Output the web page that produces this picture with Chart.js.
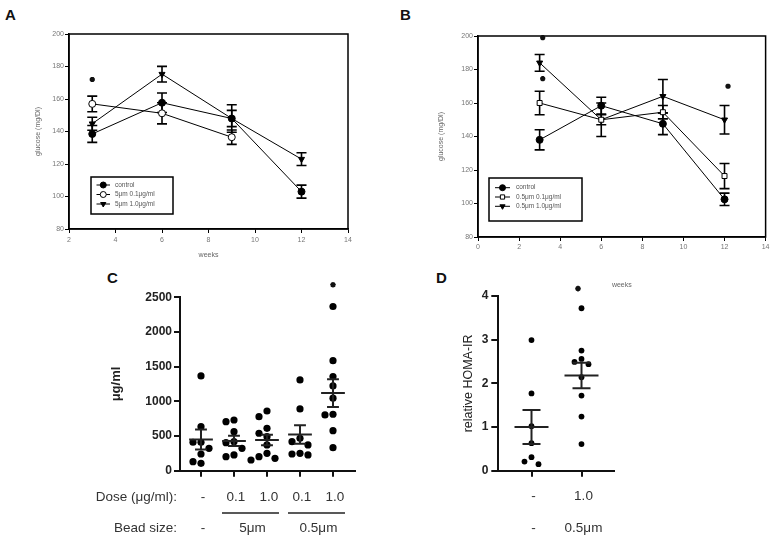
<!DOCTYPE html>
<html>
<head>
<meta charset="utf-8">
<script src="https://cdn.jsdelivr.net/npm/chart.js@4.4.1/dist/chart.umd.min.js"></script>
<style>
body { margin: 0; background: #fff; width: 771px; height: 538px; position: relative; overflow: hidden; font-family: "Liberation Sans", Arial, sans-serif; }
canvas { position: absolute; }
.panel { position: absolute; font-weight: bold; font-size: 15px; line-height: 15px; color: #111; }
</style>
</head>
<body>
<div class="panel" style="left:5px;top:7px">A</div>
<div class="panel" style="left:400px;top:7px">B</div>
<div class="panel" style="left:107px;top:270px">C</div>
<div class="panel" style="left:436px;top:270px">D</div>
<canvas id="chartA" width="380" height="270" style="left:0;top:0"></canvas>
<canvas id="chartB" width="381" height="295" style="left:390px;top:0"></canvas>
<canvas id="chartC" width="380" height="268" style="left:0;top:270px"></canvas>
<canvas id="chartD" width="391" height="268" style="left:380px;top:270px"></canvas>
<script>
// ---- data ----
const weeks = [3, 6, 9, 12];

// panel A : 5um beads
const namesA = ['control', '5\u03bcm 0.1\u03bcg/ml', '5\u03bcm 1.0\u03bcg/ml'];
const controlA = [138.5, 157.7, 148, 103];
const controlAErr = [5.2, 6, 8.5, 4];
const lowDoseA = [157, 151.2, 136.5];
const lowDoseAErr = [4.8, 6.5, 4.4];
const highDoseA = [144.8, 175.3, 148, 123];
const highDoseAErr = [4, 4.8, 5, 3.9];
const starsA = [[3, 172]];

// panel B : 0.5um beads
const namesB = ['control', '0.5\u03bcm 0.1\u03bcg/ml', '0.5\u03bcm 1.0\u03bcg/ml'];
const controlB = [138, 158.4, 147.6, 102.5];
const controlBErr = [6, 5, 6.5, 3.7];
const lowDoseB = [160, 150, 154.5, 116.4];
const lowDoseBErr = [7, 3, 4, 7.5];
const highDoseB = [184, 150, 164, 150];
const highDoseBErr = [5, 10, 10, 8.5];
const starsB = [[3.15, 199], [3.15, 174.5], [12.17, 170]];

// panel C : individual animals, mean +/- SEM
const groupsC = [
    [1366, 635, 410, 410, 323, 241, 130, 107],
    [731, 707, 563, 419, 404, 323, 227, 202],
    [861, 779, 611, 540, 491, 371, 251, 202, 179, 154],
    [1309, 890, 467, 419, 371, 251, 241, 227],
    [2367, 1587, 1357, 1222, 1045, 814, 804, 577, 332]
];
const meansC = [450, 430, 443, 522, 1120];
const semC = [145, 75, 75, 135, 200];
const doseC = ['-', '0.1', '1.0', '0.1', '1.0'];
const beadC = ['-', '5\u03bcm', '0.5\u03bcm'];
const beadSpanC = [[1, 1], [2, 3], [4, 5]];
const starsC = [[5, 2680]];

// panel D : relative HOMA-IR
const groupsD = [
    [2.99, 1.77, 1.02, 0.63, 0.31, 0.21, 0.15],
    [3.72, 2.75, 2.56, 2.49, 2.44, 2.14, 1.72, 1.24, 0.61]
];
const meansD = [1.0, 2.18];
const semD = [0.39, 0.29];
const doseD = ['-', '1.0'];
const beadD = ['-', '0.5\u03bcm'];
const starsD = [[1.93, 4.17]];

Chart.defaults.font.family = '"Liberation Sans", Arial, sans-serif';
Chart.defaults.animation = false;

const pts = (ys) => ys.map((y, i) => ({x: weeks[i], y: y}));

// simple beeswarm so equal values sit side by side
function swarm(values, cat, yPx, xPx, diam) {
    const placed = [];
    return values.map(v => {
        const yy = v * yPx;
        let off = 0;
        for (let step = 0; step < 20; step++) {
            off = step === 0 ? 0 : (step % 2 ? -1 : 1) * Math.ceil(step / 2) * diam;
            if (placed.every(p => Math.hypot(p.x - off, p.y - yy) >= diam)) break;
        }
        placed.push({x: off, y: yy});
        return {x: cat + off / xPx, y: v};
    });
}

// ---- plugins ----
const errorBars = {
    id: 'errorBars',
    beforeDatasetsDraw(chart) {
        const ctx = chart.ctx, x = chart.scales.x, y = chart.scales.y;
        ctx.save();
        ctx.strokeStyle = '#000';
        ctx.lineWidth = 1.6;
        chart.data.datasets.forEach(ds => {
            if (!ds.errors) return;
            ds.data.forEach((p, i) => {
                const e = ds.errors[i];
                const px = x.getPixelForValue(p.x);
                const t = y.getPixelForValue(p.y + e);
                const b = y.getPixelForValue(p.y - e);
                ctx.beginPath();
                ctx.moveTo(px, t); ctx.lineTo(px, b);
                ctx.moveTo(px - 5, t); ctx.lineTo(px + 5, t);
                ctx.moveTo(px - 5, b); ctx.lineTo(px + 5, b);
                ctx.stroke();
            });
        });
        ctx.restore();
    }
};

// significance asterisks (may sit above the top of the axis)
const stars = {
    id: 'stars',
    afterDraw(chart, args, opts) {
        if (!opts.points) return;
        const ctx = chart.ctx, x = chart.scales.x, y = chart.scales.y;
        ctx.save();
        ctx.strokeStyle = '#111';
        ctx.lineWidth = opts.width;
        opts.points.forEach(s => {
            Chart.helpers.drawPoint(ctx, {pointStyle: 'star', rotation: 0, radius: opts.radius, borderWidth: opts.width},
                x.getPixelForValue(s[0]), y.getPixelForValue(s[1]));
        });
        ctx.restore();
    }
};

const frame = {
    id: 'frame',
    afterDraw(chart) {
        const a = chart.chartArea, ctx = chart.ctx;
        ctx.save();
        ctx.strokeStyle = '#000';
        ctx.lineWidth = 1.5;
        ctx.strokeRect(a.left, a.top, a.right - a.left, a.bottom - a.top);
        ctx.restore();
    }
};

const boxLegend = {
    id: 'boxLegend',
    afterDraw(chart, args, opts) {
        if (!opts.box) return;
        const ctx = chart.ctx, b = opts.box;
        ctx.save();
        ctx.fillStyle = '#fff';
        ctx.fillRect(b[0], b[1], b[2], b[3]);
        ctx.strokeStyle = '#000';
        ctx.lineWidth = 1.5;
        ctx.strokeRect(b[0], b[1], b[2], b[3]);
        ctx.font = '6.5px "Liberation Sans", Arial';
        ctx.textBaseline = 'middle';
        chart.data.datasets.filter(ds => ds.label).forEach((ds, i) => {
            const yy = b[1] + opts.first + i * opts.gap;
            const x0 = b[0] + opts.lineFrom, x1 = x0 + opts.lineLen;
            ctx.strokeStyle = '#000';
            ctx.lineWidth = 1;
            ctx.beginPath(); ctx.moveTo(x0, yy); ctx.lineTo(x1, yy); ctx.stroke();
            ctx.fillStyle = ds.pointBackgroundColor;
            Chart.helpers.drawPoint(ctx, {pointStyle: ds.pointStyle, rotation: ds.pointRotation || 0, radius: 3, borderWidth: 1}, (x0 + x1) / 2, yy);
            ctx.fillStyle = '#555';
            ctx.fillText(ds.label, x1 + opts.textGap, yy);
        });
        ctx.restore();
    }
};

const meanSem = {
    id: 'meanSem',
    afterDatasetsDraw(chart, args, opts) {
        if (!opts.means) return;
        const ctx = chart.ctx, x = chart.scales.x, y = chart.scales.y;
        ctx.save();
        ctx.strokeStyle = '#222';
        ctx.lineWidth = opts.width;
        opts.means.forEach((m, i) => {
            const c = i + 1;
            const cx = x.getPixelForValue(c);
            const hw = x.getPixelForValue(c + opts.half) - cx;
            const cw = x.getPixelForValue(c + opts.cap) - cx;
            const my = y.getPixelForValue(m);
            const t = y.getPixelForValue(m + opts.sem[i]);
            const b = y.getPixelForValue(m - opts.sem[i]);
            ctx.beginPath();
            ctx.moveTo(cx - hw, my); ctx.lineTo(cx + hw, my);
            ctx.moveTo(cx, t); ctx.lineTo(cx, b);
            ctx.moveTo(cx - cw, t); ctx.lineTo(cx + cw, t);
            ctx.moveTo(cx - cw, b); ctx.lineTo(cx + cw, b);
            ctx.stroke();
        });
        ctx.restore();
    }
};

const rowLabels = {
    id: 'rowLabels',
    afterDraw(chart, args, opts) {
        if (!opts.rows) return;
        const ctx = chart.ctx, a = chart.chartArea, x = chart.scales.x;
        ctx.save();
        ctx.font = '13.5px "Liberation Sans", Arial';
        ctx.fillStyle = '#333';
        ctx.strokeStyle = '#222';
        ctx.lineWidth = 1.5;
        ctx.textBaseline = 'middle';
        opts.rows.forEach(row => {
            const yy = a.bottom + row.dy;
            if (row.title) {
                ctx.textAlign = 'right';
                ctx.fillText(row.title, opts.titleRight, yy);
            }
            ctx.textAlign = 'center';
            row.labels.forEach((txt, i) => {
                const span = row.spans ? row.spans[i] : [i + 1, i + 1];
                const l = x.getPixelForValue(span[0]), r = x.getPixelForValue(span[1]);
                ctx.fillText(txt, (l + r) / 2 + 2, yy);
                if (span[1] > span[0]) {
                    ctx.beginPath();
                    ctx.moveTo(l - 12, yy - 15); ctx.lineTo(r + 12, yy - 15);
                    ctx.stroke();
                }
            });
        });
        ctx.restore();
    }
};

// ---- line charts A and B ----
function seriesSet(names, ctl, ctlErr, low, lowErr, high, highErr) {
    return [
        {label: names[0], data: pts(ctl), errors: ctlErr, pointStyle: 'circle', pointBackgroundColor: '#000'},
        {label: names[1], data: pts(low), errors: lowErr, pointStyle: names === namesA ? 'circle' : 'rect', pointBackgroundColor: '#fff'},
        {label: names[2], data: pts(high), errors: highErr, pointStyle: 'triangle', pointRotation: 180, pointBackgroundColor: '#000'}
    ].map(ds => Object.assign({
        borderColor: '#000', borderWidth: 1, pointRadius: 3.5, pointBorderColor: '#000', pointBorderWidth: 1
    }, ds));
}

function lineOptions(cfg) {
    const tickFont = {size: 7};
    return {
        responsive: false,
        layout: {padding: cfg.pad},
        plugins: {
            legend: {display: false},
            tooltip: {enabled: false},
            boxLegend: cfg.legend,
            stars: {points: cfg.stars, radius: 2.6, width: 1.8}
        },
        scales: {
            x: {
                type: 'linear', min: cfg.xMin, max: 14,
                ticks: {stepSize: 2, color: '#777', font: tickFont, padding: cfg.xPad},
                grid: {drawOnChartArea: false, tickLength: 4, color: '#000'},
                border: {color: '#000', width: 1.5},
                title: {display: true, text: 'weeks', color: '#666', font: tickFont},
                afterFit(s) { s.height = cfg.xH; }
            },
            y: {
                min: 80, max: 200,
                ticks: {stepSize: 20, color: '#777', font: tickFont, padding: 1},
                grid: {drawOnChartArea: false, tickLength: 4, color: '#000'},
                border: {color: '#000', width: 1.5},
                title: {display: true, text: 'glucose (mg/Dl)', color: '#666', font: tickFont},
                afterFit(s) { s.width = cfg.yW; }
            }
        }
    };
}

new Chart(document.getElementById('chartA'), {
    type: 'line',
    data: {datasets: seriesSet(namesA, controlA, controlAErr, lowDoseA, lowDoseAErr, highDoseA, highDoseAErr)},
    options: lineOptions({
        pad: {left: 30, right: 32, top: 34, bottom: 7}, xMin: 2, xPad: 3, xH: 34, yW: 39, stars: starsA,
        legend: {box: [91, 177, 82, 37], first: 8, gap: 9.5, lineFrom: 5.5, lineLen: 13.5, textGap: 5}
    }),
    plugins: [errorBars, frame, boxLegend, stars]
});

new Chart(document.getElementById('chartB'), {
    type: 'line',
    data: {datasets: seriesSet(namesB, controlB, controlBErr, lowDoseB, lowDoseBErr, highDoseB, highDoseBErr)},
    options: lineOptions({
        pad: {left: 43, right: 5, top: 36, bottom: 2}, xMin: 0, xPad: 1.5, xH: 56, yW: 45, stars: starsB,
        legend: {box: [99, 178, 93, 43], first: 9.7, gap: 9.3, lineFrom: 6, lineLen: 15, textGap: 6}
    }),
    plugins: [errorBars, frame, boxLegend, stars]
});

// ---- dot plots C and D ----
function dotOptions(cfg) {
    const bold = {size: 12, weight: 'bold'};
    return {
        responsive: false,
        layout: {padding: cfg.pad},
        plugins: {
            legend: {display: false},
            tooltip: {enabled: false},
            meanSem: cfg.meanSem,
            rowLabels: cfg.rows,
            stars: {points: cfg.stars, radius: 2.8, width: 1.6}
        },
        scales: {
            x: {
                type: 'linear', min: cfg.xMin, max: cfg.xMax,
                ticks: {stepSize: 1, includeBounds: false, callback: () => ''},
                grid: {drawOnChartArea: false, tickLength: 6, color: '#111', lineWidth: 2},
                border: {color: '#111', width: 2},
                afterFit(s) { s.height = 10; }
            },
            y: {
                min: 0, max: cfg.yMax,
                ticks: {stepSize: cfg.yStep, color: '#222', font: bold, padding: cfg.yPad, callback: v => String(v)},
                grid: {drawOnChartArea: false, tickLength: cfg.yTick, color: '#111', lineWidth: 2},
                border: {color: '#111', width: 2},
                title: {display: true, text: cfg.yTitle, color: '#222', font: cfg.titleFont},
                afterFit(s) { s.width = cfg.yW; }
            }
        }
    };
}

function dotSets(groups, yPx, xPx, diam, radius) {
    return groups.map((g, i) => ({
        data: swarm(g, i + 1, yPx, xPx, diam),
        pointRadius: radius, pointBackgroundColor: '#000', pointBorderColor: '#000', pointBorderWidth: 0
    }));
}

new Chart(document.getElementById('chartC'), {
    type: 'scatter',
    data: {datasets: dotSets(groupsC, 173.4 / 2500, 33, 8, 3.6)},
    options: dotOptions({
        pad: {left: 105, right: 25, top: 27.3, bottom: 57.3}, xMin: 0.364, xMax: 5.667,
        yMax: 2500, yStep: 500, yPad: 2, yTick: 6, yW: 75, stars: starsC,
        yTitle: '\u03bcg/ml', titleFont: {size: 13, weight: 'bold'},
        meanSem: {means: meansC, sem: semC, half: 0.36, cap: 0.18, width: 2},
        rows: {titleRight: 177, rows: [
            {dy: 27, title: 'Dose (\u03bcg/ml):', labels: doseC},
            {dy: 57.3, title: 'Bead size:', labels: beadC, spans: beadSpanC}
        ]}
    }),
    plugins: [meanSem, rowLabels, stars]
});

new Chart(document.getElementById('chartD'), {
    type: 'scatter',
    data: {datasets: dotSets(groupsD, 174.7 / 4, 50, 7, 2.9)},
    options: dotOptions({
        pad: {left: 76.8, right: 156.7, top: 26, bottom: 57.3}, xMin: 0.336, xMax: 2.656,
        yMax: 4, yStep: 1, yPad: 3, yTick: 7, yW: 41.5, stars: starsD,
        yTitle: 'relative HOMA-IR', titleFont: {size: 12.5},
        meanSem: {means: meansD, sem: semD, half: 0.34, cap: 0.18, width: 2},
        rows: {titleRight: 0, rows: [
            {dy: 26, labels: doseD},
            {dy: 57.3, labels: beadD}
        ]}
    }),
    plugins: [meanSem, rowLabels, stars]
});
</script>
</body>
</html>
